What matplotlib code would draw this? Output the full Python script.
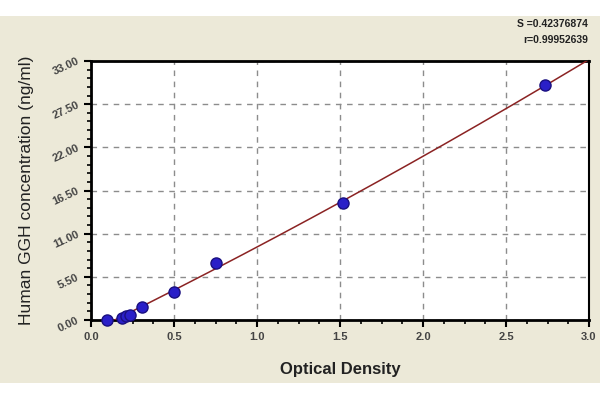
import matplotlib
matplotlib.use("Agg")
import matplotlib.pyplot as plt
from matplotlib.patches import Rectangle
from matplotlib.ticker import MultipleLocator
import numpy as np

od = [0.096, 0.187, 0.21, 0.233, 0.307, 0.5, 0.753, 1.52, 2.735]
conc = [0.0, 0.3, 0.45, 0.64, 1.7, 3.6, 7.3, 14.9, 29.9]
x_ticks = [0.0, 0.5, 1.0, 1.5, 2.0, 2.5, 3.0]
y_ticks = [0.0, 5.5, 11.0, 16.5, 22.0, 27.5, 33.0]

plt.rcParams['font.family'] = ['Liberation Sans', 'DejaVu Sans']

fig = plt.figure(figsize=(6, 4), dpi=100, facecolor='white')
fig.patches.append(Rectangle((0, 17 / 400), 1, 367 / 400, transform=fig.transFigure,
                             facecolor='#ece9d8', edgecolor='none', zorder=-10))
ax = fig.add_axes([91 / 600, 80 / 400, 498 / 600, 259 / 400])
ax.set_facecolor('white')

# fitted curve (quadratic through the standards)
coef = np.polyfit(od, conc, 2)
xs = np.linspace(0.1, 3.0, 200)
ax.plot(xs, np.polyval(coef, xs), color='#8b2323', lw=1.1, zorder=3)
ax.plot(od, conc, 'o', color='#2a1fc8', mec='#1a1080', ms=8, zorder=4, clip_on=False)

ax.set_xlim(0, 3.0)
ax.set_ylim(0, 33.0)
ax.set_xticks(x_ticks)
ax.set_yticks(y_ticks)
ax.set_xticklabels(['%.1f' % v for v in x_ticks], fontsize=8, fontweight='bold', color='#444444')
ax.set_yticklabels(['%.2f' % v for v in y_ticks], fontsize=8, fontweight='bold', color='#444444',
                   rotation=25, ha='right', va='center', rotation_mode='anchor')
ax.xaxis.set_minor_locator(MultipleLocator(0.125))
ax.yaxis.set_minor_locator(MultipleLocator(1.1))
ax.tick_params(which='major', length=5, width=1.5, direction='out', pad=4)
ax.tick_params(which='minor', length=3, width=1.2, direction='out')
ax.grid(True, which='major', ls=(0, (4, 4)), color='#8c8c8c', lw=1)
for s in ['left', 'bottom', 'top']:
    ax.spines[s].set_linewidth(2)
ax.spines['right'].set_linewidth(1.5)

ax.set_xlabel('Optical Density', fontsize=12, fontweight='bold', color='#222222', labelpad=14)
ax.set_ylabel('Human GGH concentration (ng/ml)', fontsize=12.5, color='#222222', labelpad=12)

fig.text(588 / 600, 1 - 24 / 400, 'S =0.42376874', ha='right', va='center', fontsize=7.5,
         fontweight='bold', color='#222222')
fig.text(588 / 600, 1 - 40 / 400, 'r=0.99952639', ha='right', va='center', fontsize=7.5,
         fontweight='bold', color='#222222')

fig.savefig('out.png', dpi=100, facecolor=fig.get_facecolor())
